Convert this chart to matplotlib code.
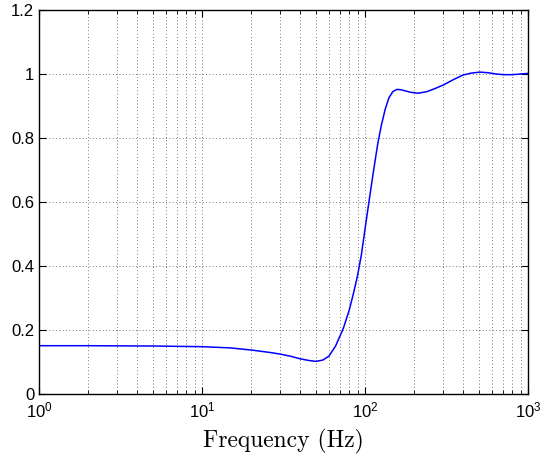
import matplotlib
matplotlib.use('Agg')
import matplotlib.pyplot as plt
from matplotlib.ticker import FormatStrFormatter, LogLocator

plt.rcParams['font.family'] = ['Liberation Sans', 'DejaVu Sans']
plt.rcParams['mathtext.fontset'] = 'custom'
plt.rcParams['mathtext.rm'] = 'Liberation Sans'
plt.rcParams['mathtext.it'] = 'Liberation Sans:italic'

# values
freq = [1, 2, 3, 5, 7, 10, 15, 20, 26, 30, 35, 40, 45, 50, 55, 60, 66, 73.6, 80,
        85, 90, 95, 100, 105, 110, 115, 120, 126, 133, 140, 148, 157, 165, 175,
        190, 212, 240, 270, 303, 350, 400, 450, 508, 570, 640, 706, 800, 900, 1000]
mag = [0.151, 0.151, 0.1505, 0.150, 0.149, 0.148, 0.144, 0.1375, 0.130, 0.125,
       0.118, 0.110, 0.105, 0.102, 0.106, 0.118, 0.150, 0.205, 0.262,
       0.315, 0.370, 0.435, 0.515, 0.590, 0.660, 0.725, 0.785, 0.840, 0.890,
       0.925, 0.945, 0.952, 0.951, 0.948,
       0.943, 0.940, 0.945, 0.955, 0.966, 0.983, 0.997, 1.003, 1.006,
       1.004, 1.000, 0.998, 0.998, 1.000, 1.002]

fig = plt.figure(figsize=(5.4, 4.58), dpi=100)
ax = fig.add_axes([0.0722, 0.1397, 0.9056, 0.8384])

ax.semilogx(freq, mag, color=(0, 0, 1), lw=1.1)
ax.set_xlim(1, 1000)
ax.set_ylim(0, 1.2)
ax.set_yticks([0, 0.2, 0.4, 0.6, 0.8, 1.0, 1.2])
ax.yaxis.set_major_formatter(FormatStrFormatter('%g'))
ax.xaxis.set_major_locator(LogLocator(base=10, numticks=10))
ax.xaxis.set_minor_locator(LogLocator(base=10, subs=range(2, 10), numticks=20))

grid_ls = (0, (1, 3))
ax.grid(True, which='major', axis='both', color='0.3', linestyle=grid_ls, lw=0.6)
ax.grid(True, which='minor', axis='x', color='0.3', linestyle=grid_ls, lw=0.6)

ax.tick_params(which='both', direction='in', top=True, right=True, labelsize=12)
ax.tick_params(which='major', length=5, width=0.8)
ax.tick_params(which='minor', length=3, width=0.6)
ax.tick_params(axis='x', which='major', pad=4.5)
ax.tick_params(axis='y', which='major', pad=3.5)
for s in ax.spines.values():
    s.set_linewidth(1.0)

ax.set_xlabel('Frequency (Hz)', fontfamily='cmr10', fontsize=17, labelpad=6)

fig.savefig('out.png', dpi=100)
